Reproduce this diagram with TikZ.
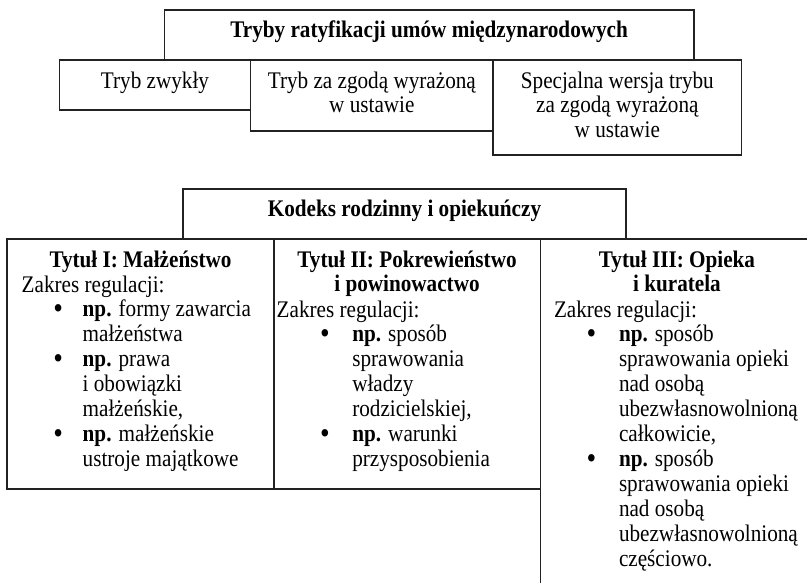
\documentclass[tikz,border=0pt]{standalone}
\usepackage{fontspec}
\setmainfont{Liberation Serif}[FakeStretch=0.89]
\newlength\bulx
\newlength\txtx
\newcommand\bigbul{\raisebox{-2pt}{\scalebox{1.3}{\textbullet}}}
\newcommand\bulline[1]{\hspace*{\bulx}\makebox[\dimexpr\txtx-\bulx\relax][l]{\bigbul}#1}
\newcommand\contline[1]{\hspace*{\txtx}#1}
\newcommand\fnt{\fontsize{23.8}{24.9}\selectfont}
\definecolor{linecol}{HTML}{222222}
\begin{document}
\begin{tikzpicture}[x=1pt,y=-1pt,
  box/.style={draw=linecol, line width=1.2pt, inner sep=0pt, outer sep=0pt, anchor=north west},
  txt/.style={inner sep=0pt, outer sep=0pt, anchor=base, font=\fnt, text=black},
  btxt/.style={txt, font=\fnt\bfseries},
  lst/.style={txt, anchor=base west}]
\useasboundingbox (0,0) rectangle (807,582);
\clip (0,0) rectangle (807,582);
\fill[white] (0,0) rectangle (807,582);

% top part
\node[box, minimum width=529.7pt, minimum height=50pt] (top) at (164.3,10) {};
\node[box, minimum width=191.4pt, minimum height=50pt] (t1) at (59.3,60) {};
\node[box, minimum width=242.3pt, minimum height=71pt] (t2) at (250.7,60) {};
\node[box, minimum width=248.7pt, minimum height=95pt] (t3) at (493,60) {};

\node[btxt] (toptxt) at (429.15,37) {Tryby ratyfikacji umów międzynarodowych};
\node[txt] (t1txt) at (155,88) {Tryb zwykły};
\node[txt] (t2txt) at (371.85,88) {\begin{tabular}[t]{@{}c@{}}Tryb za zgodą wyrażoną\\ w ustawie\end{tabular}};
\node[txt] (t3txt) at (617.35,88) {\begin{tabular}[t]{@{}c@{}}Specjalna wersja trybu\\ za zgodą wyrażoną\\ w ustawie\end{tabular}};

% bottom part
\node[box, minimum width=443pt, minimum height=50pt] (kod) at (183,189) {};
\node[box, minimum width=267pt, minimum height=250pt] (b1) at (7,239) {};
\node[box, minimum width=266.7pt, minimum height=250pt] (b2) at (274,239) {};
\node[box, minimum width=272pt, minimum height=400pt] (b3) at (540.7,239) {};

\node[btxt] (kodtxt) at (404.5,216) {Kodeks rodzinny i opiekuńczy};

\node[btxt] (b1t) at (140.5,267) {Tytuł I: Małżeństwo};
\node[btxt] (b2t) at (407,267) {\begin{tabular}[t]{@{}c@{}}Tytuł II: Pokrewieństwo\\ i powinowactwo\end{tabular}};
\node[btxt] (b3t) at (677,267) {\begin{tabular}[t]{@{}c@{}}Tytuł III: Opieka\\ i kuratela\end{tabular}};

\node[lst] (b1l) at (21.7,292) {\setlength\bulx{31.6pt}\setlength\txtx{61pt}%
\begin{tabular}[t]{@{}l@{}}Zakres regulacji:\\
\bulline{\textbf{np.} formy zawarcia}\\
\contline{małżeństwa}\\
\bulline{\textbf{np.} prawa}\\
\contline{i obowiązki}\\
\contline{małżeńskie,}\\
\bulline{\textbf{np.} małżeńskie}\\
\contline{ustroje majątkowe}
\end{tabular}};

\node[lst] (b2l) at (276.7,317) {\setlength\bulx{43.3pt}\setlength\txtx{75.6pt}%
\begin{tabular}[t]{@{}l@{}}Zakres regulacji:\\
\bulline{\textbf{np.} sposób}\\
\contline{sprawowania}\\
\contline{władzy}\\
\contline{rodzicielskiej,}\\
\bulline{\textbf{np.} warunki}\\
\contline{przysposobienia}
\end{tabular}};

\node[lst] (b3l) at (554,317) {\setlength\bulx{32.7pt}\setlength\txtx{65pt}%
\begin{tabular}[t]{@{}l@{}}Zakres regulacji:\\
\bulline{\textbf{np.} sposób}\\
\contline{sprawowania opieki}\\
\contline{nad osobą}\\
\contline{ubezwłasnowolnioną}\\
\contline{całkowicie,}\\
\bulline{\textbf{np.} sposób}\\
\contline{sprawowania opieki}\\
\contline{nad osobą}\\
\contline{ubezwłasnowolnioną}\\
\contline{częściowo.}
\end{tabular}};
\end{tikzpicture}
\end{document}
